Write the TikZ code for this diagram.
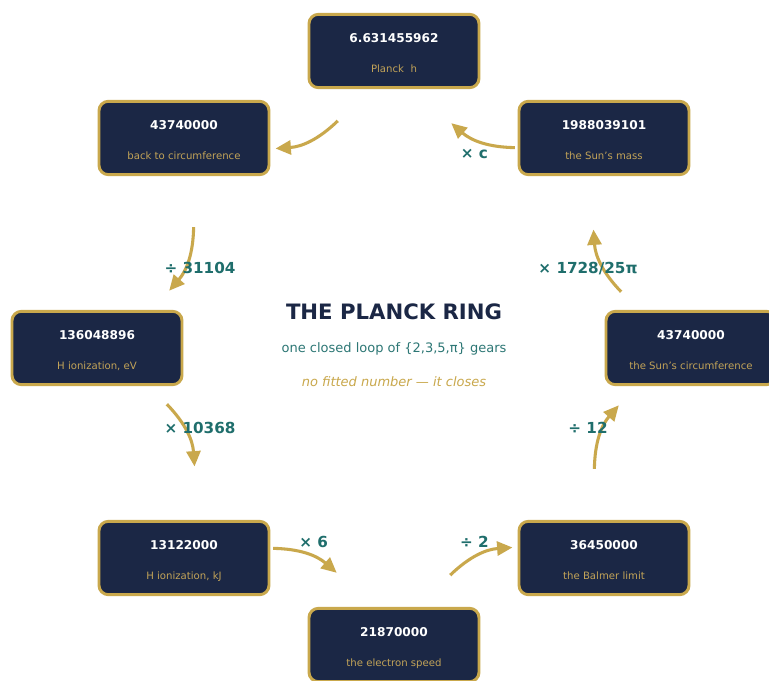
\documentclass[tikz,border=0pt]{standalone}
\usepackage{fontspec}
\setmainfont{DejaVu Sans}
\usetikzlibrary{arrows.meta,calc}
\definecolor{ringnavy}{HTML}{1B2745}
\definecolor{ringgold}{HTML}{C9A84C}
\definecolor{ringlabel}{HTML}{C2A358}
\definecolor{ringteal}{HTML}{1F6E6C}
\definecolor{ringsub}{HTML}{2D7775}
\begin{document}
\begin{tikzpicture}[x=0.75pt,y=0.75pt,
  stagebox/.style={draw=ringgold, fill=ringnavy, line width=2.2pt,
    rounded corners=7pt, minimum width=127.5pt, minimum height=55pt, inner sep=0pt},
  valtext/.style={anchor=base, text=white, inner sep=0pt,
    font=\bfseries\fontsize{9.1}{10}\selectfont},
  nametext/.style={anchor=base, text=ringlabel, inner sep=0pt,
    font=\fontsize{7.6}{9}\selectfont},
  gear/.style={draw=ringgold, line width=2.3pt,
    -{Triangle[length=11.5pt,width=10.5pt]}, bend left=20},
  oplabel/.style={anchor=base, text=ringteal, inner sep=0pt,
    font=\bfseries\fontsize{11.4}{13}\selectfont}]

\useasboundingbox (0,0) rectangle (769,-681);
\clip (0,0) rectangle (769,-681);
\fill[white] (0,0) rectangle (769,-681);

\coordinate (C) at (394,-348);

% the eight stages, counter-clockwise from the right
\foreach \name/\ang/\val/\txt in {
    rt/0/43740000/{the Sun's circumference},
    ur/45/1988039101/{the Sun's mass},
    tp/90/6.631455962/{Planck\ \ h},
    ul/135/43740000/{back to circumference},
    lf/180/136048896/{H ionization, eV},
    ll/225/13122000/{H ionization, kJ},
    bt/270/21870000/{the electron speed},
    lr/315/36450000/{the Balmer limit}} {
  \node[stagebox] (\name) at ($(C)+(\ang:297)$) {};
  \node[valtext] (\name-val) at ($(\name.center)+(0,8.2)$) {\val};
  \node[nametext] (\name-txt) at ($(\name.center)+(0,-21.2)$) {\txt};
}

% gear arrows between neighbouring stages
\foreach \src/\ang in {rt/0, ur/45, tp/90, ul/135, lf/180, ll/225, bt/270, lr/315} {
  \coordinate (\src-out) at ($(C)+(\ang+13.9:234)$);
  \coordinate (\src-in) at ($(C)+(\ang+30.7:232)$);
  \draw[gear] (\src-out) to (\src-in);
}

% gear factors
\node[oplabel] (op-rt) at ($(C)+(22.5:210)+(0,-5.6)$) {× 1728/25π};
\node[oplabel] (op-ur) at ($(C)+(67.5:210)+(0,-4.3)$) {× c};
\node[oplabel] (op-ul) at ($(C)+(157.5:210)+(0,-5.6)$) {÷ 31104};
\node[oplabel] (op-lf) at ($(C)+(202.5:210)+(0,-5.6)$) {× 10368};
\node[oplabel] (op-ll) at ($(C)+(247.5:210)+(0,-5.6)$) {× 6};
\node[oplabel] (op-bt) at ($(C)+(292.5:210)+(0,-5.6)$) {÷ 2};
\node[oplabel] (op-lr) at ($(C)+(337.5:210)+(0,-5.6)$) {÷ 12};

% centre caption
\node[anchor=base, inner sep=0pt, text=ringnavy,
  font=\bfseries\fontsize{15.9}{18}\selectfont] (title) at (394,-320) {THE PLANCK RING};
\node[anchor=base, inner sep=0pt, text=ringsub,
  font=\fontsize{9.75}{12}\selectfont] (subtitle) at (394,-353) {one closed loop of \{2,3,5,π\} gears};
\node[anchor=base, inner sep=0pt, text=ringgold,
  font=\itshape\fontsize{9.75}{12}\selectfont] (motto) at (394,-387) {no fitted number — it closes};
\end{tikzpicture}
\end{document}
